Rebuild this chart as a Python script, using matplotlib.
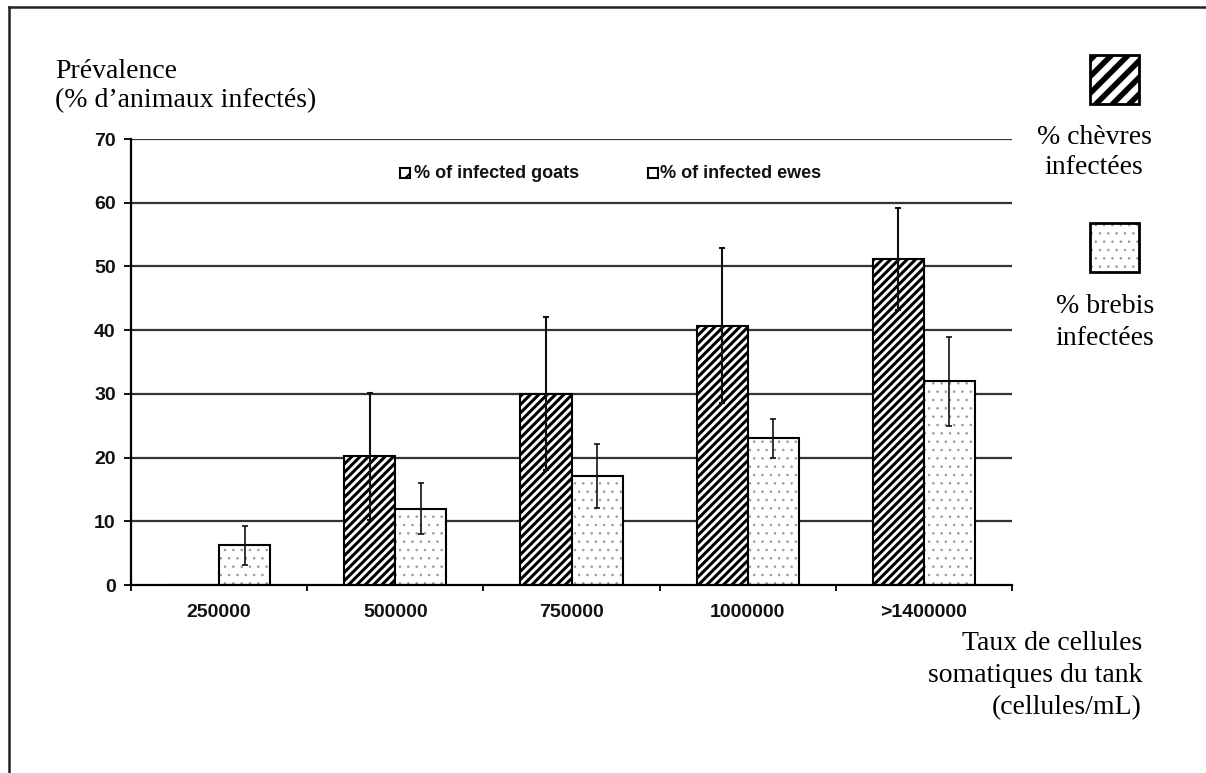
import numpy as np
import matplotlib
matplotlib.use('Agg')
import matplotlib.pyplot as plt
from matplotlib.patches import Rectangle
from matplotlib.lines import Line2D

categories = ['250000', '500000', '750000', '1000000', '>1400000']
goats = [0, 20.2, 30, 40.7, 51.2]
goats_err = [0, 10, 12, 12.2, 8]
ewes = [6.2, 12, 17.1, 23, 32]
ewes_err = [3, 4, 5, 3, 7]
yticks = [0, 10, 20, 30, 40, 50, 60, 70]
legend_labels = ['% of infected goats', '% of infected ewes']

W, H = 1206, 773
fig = plt.figure(figsize=(W / 100, H / 100), dpi=100)
ax = fig.add_axes([131 / W, 1 - 585 / H, (1012 - 131) / W, (585 - 139) / H])

x = np.arange(len(categories))
bw = 0.29


def hatch_lw(patches, lw):
    for b in patches:
        if hasattr(b, 'set_hatch_linewidth'):
            b.set_hatch_linewidth(lw)


# grid behind bars
for v in yticks[1:]:
    ax.axhline(v, color='#333333', lw=1.6, zorder=0)

plt.rcParams['hatch.linewidth'] = 2.2
gb = ax.bar(x - bw / 2, goats, bw, color='white', edgecolor='black', hatch='////', lw=1.5, zorder=2)
hatch_lw(gb, 2.2)

plt.rcParams['hatch.linewidth'] = 0.6
eb = ax.bar(x + bw / 2, ewes, bw, color='white', edgecolor='#999999', hatch='..', lw=0, zorder=2)
hatch_lw(eb, 0.6)
ax.bar(x + bw / 2, ewes, bw, fill=False, edgecolor='black', lw=1.5, zorder=3)

# error bars (skip goats at 250000: no bar)
gx = [xi - bw / 2 for xi, g in zip(x, goats) if g > 0]
gy = [g for g in goats if g > 0]
ge = [e for e, g in zip(goats_err, goats) if g > 0]
ax.errorbar(gx, gy, yerr=ge, fmt='none', ecolor='#111111', elinewidth=1.5, capsize=2.5, capthick=1.5, zorder=4)
ax.errorbar(x + bw / 2, ewes, yerr=ewes_err, fmt='none', ecolor='#111111', elinewidth=1.2, capsize=2.5, capthick=1.2, zorder=4)

ax.set_xlim(-0.5, len(categories) - 0.5)
ax.set_ylim(0, 70)
tick_font = dict(fontfamily='Liberation Sans', fontweight='bold', fontsize=14, color='#111111')
ax.set_yticks(yticks)
ax.set_yticklabels([str(v) for v in yticks], **tick_font)
ax.set_xticks(x)
ax.set_xticklabels(categories, **tick_font)
ax.set_xticks(np.arange(-0.5, len(categories)), minor=True)
ax.tick_params(axis='x', which='major', length=0, pad=14)
ax.tick_params(axis='x', which='minor', length=4, width=1.3, direction='out')
ax.tick_params(axis='y', length=5, width=1.3, direction='out', pad=6)
for s in ['top', 'right']:
    ax.spines[s].set_visible(False)
for s in ['left', 'bottom']:
    ax.spines[s].set_linewidth(1.6)
    ax.spines[s].set_zorder(5)

# in-plot legend
leg_font = dict(family='Liberation Sans', weight='bold', fontsize=13, color='#111111')
plt.rcParams['hatch.linewidth'] = 1.5
fig.add_artist(Rectangle((400 / W, 1 - 178 / H), 10 / W, 10 / H, transform=fig.transFigure,
                         facecolor='white', edgecolor='black', hatch='//', lw=1.5))
fig.text(414 / W, 1 - 173 / H, legend_labels[0], ha='left', va='center', **leg_font)
fig.add_artist(Rectangle((648 / W, 1 - 178 / H), 10 / W, 10 / H, transform=fig.transFigure,
                         facecolor='white', edgecolor='black', lw=1.5))
fig.text(660 / W, 1 - 173 / H, legend_labels[1], ha='left', va='center', **leg_font)

serif = 'Liberation Serif'
fs = 20
fig.text(55 / W, 1 - 72 / H, 'Prévalence', family=serif, fontsize=fs, ha='left', va='center')
fig.text(55 / W, 1 - 101 / H, '(% d\u2019animaux infectés)', family=serif, fontsize=fs, ha='left', va='center')
fig.text(1142 / W, 1 - 643 / H, 'Taux de cellules', family=serif, fontsize=fs, ha='right', va='center')
fig.text(1142 / W, 1 - 676 / H, 'somatiques du tank', family=serif, fontsize=fs, ha='right', va='center')
fig.text(1142 / W, 1 - 708 / H, '(cellules/mL)', family=serif, fontsize=fs, ha='right', va='center')

# right-hand legend
plt.rcParams['hatch.linewidth'] = 4.0
r1 = Rectangle((1090 / W, 1 - 104 / H), 49 / W, 49 / H, transform=fig.transFigure,
               facecolor='white', edgecolor='black', hatch='//', lw=2.0)
hatch_lw([r1], 4.0)
fig.add_artist(r1)
fig.text(1094 / W, 1 - 137 / H, '% chèvres', family=serif, fontsize=fs, ha='center', va='center')
fig.text(1094 / W, 1 - 168 / H, 'infectées', family=serif, fontsize=fs, ha='center', va='center')
plt.rcParams['hatch.linewidth'] = 0.6
r2 = Rectangle((1090 / W, 1 - 272 / H), 49 / W, 49 / H, transform=fig.transFigure,
               facecolor='white', edgecolor='#999999', hatch='..', lw=0)
hatch_lw([r2], 0.6)
fig.add_artist(r2)
fig.add_artist(Rectangle((1090 / W, 1 - 272 / H), 49 / W, 49 / H, transform=fig.transFigure,
                         fill=False, edgecolor='black', lw=2.0))
fig.text(1105 / W, 1 - 307 / H, '% brebis', family=serif, fontsize=fs, ha='center', va='center')
fig.text(1105 / W, 1 - 338 / H, 'infectées', family=serif, fontsize=fs, ha='center', va='center')

# outer frame (left and top edges)
fig.add_artist(Line2D([9 / W, 9 / W], [0, 1 - 7 / H], transform=fig.transFigure, color='#222222', lw=1.8))
fig.add_artist(Line2D([9 / W, 1], [1 - 7 / H, 1 - 7 / H], transform=fig.transFigure, color='#222222', lw=1.8))

fig.savefig('out.png', dpi=100, facecolor='white')
